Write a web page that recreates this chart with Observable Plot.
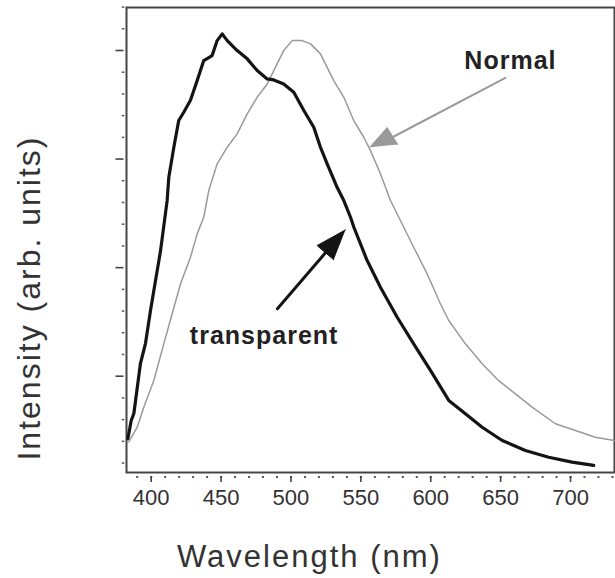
<!DOCTYPE html>
<html><head><meta charset="utf-8">
<script src="https://cdn.jsdelivr.net/npm/d3@7"></script>
<script src="https://cdn.jsdelivr.net/npm/@observablehq/plot@0.6"></script>
<style>body{margin:0;background:#fff}</style>
</head><body><div id="chart"></div>
<script>
// Transparent sample (black, thick)
const transparentWl = [383.3,385.7,387.6,392.3,395.9,399.5,401.9,406.7,411.4,412.6,416.2,419.7,423.3,428.1,432.9,437.6,443.6,447.2,450.8,454.4,461.5,468.7,475.8,483.0,487.7,494.8,502.0,509.2,516.3,521.1,525.9,533.0,537.8,542.6,545.0,554.5,564.0,576.0,587.8,599.8,612.9,624.8,636.8,651.1,667.7,684.4,701.1,716.6];
const transparentI  = [0.424,0.592,0.657,1.117,1.301,1.605,1.789,2.157,2.617,2.832,3.109,3.355,3.431,3.541,3.723,3.907,3.953,4.091,4.153,4.091,3.999,3.923,3.815,3.738,3.729,3.692,3.615,3.447,3.293,3.109,2.956,2.740,2.618,2.464,2.372,2.065,1.820,1.543,1.298,1.053,0.777,0.654,0.530,0.408,0.316,0.254,0.208,0.178];
// Normal sample (gray, thin)
const normalWl = [384.0,390.0,394.7,401.9,409.0,415.0,421.0,428.1,432.9,437.6,441.2,447.2,454.4,461.5,468.7,475.8,483.0,490.1,494.8,500.9,508.0,514.0,521.1,530.6,537.8,544.9,552.1,556.9,564.0,571.2,578.3,587.8,597.4,606.9,612.9,624.8,636.8,648.6,660.6,672.5,689.2,703.5,717.8,731.4];
const normalI  = [0.395,0.530,0.715,0.960,1.298,1.575,1.851,2.096,2.311,2.464,2.710,2.956,3.109,3.232,3.416,3.569,3.692,3.877,3.999,4.091,4.091,4.061,3.969,3.723,3.569,3.355,3.201,3.078,2.864,2.618,2.434,2.188,1.943,1.667,1.513,1.298,1.114,0.959,0.838,0.715,0.562,0.500,0.438,0.408];

const xTicks = [400,450,500,550,600,650,700];
const xMinorTicks = [390,400,410,420,430,440,450,460,470,480,490,500,510,520,530,540,550,560,570,580,590,600,610,620,630,640,650,660,670,680,690,700,710,720,730];
const yMajorTicks = [1,2,3,4];
const yMinorTicks = [0.2,0.4,0.6,0.8,1.2,1.4,1.6,1.8,2.2,2.4,2.6,2.8,3.2,3.4,3.6,3.8,4.2,4.4];

// Annotations (data units)
const normalShaftWl = [653.4,572.6], normalShaftI = [3.748,3.201];
const normalHeadWl = [556.4,568.8,576.4], normalHeadI = [3.109,3.290,3.134];
const transShaftWl = [490.3,524.7], transShaftI = [1.621,2.137];
const transHeadWl = [539.0,518.7,530.6], transHeadI = [2.348,2.203,2.072];
const labels = [
  {text:"Normal", wl:657.0, v:3.831},
  {text:"transparent", wl:480.8, v:1.298}
];
const xTitle = "Wavelength (nm)";
const yTitle = "Intensity (arb. units)";

const zip = (a,b) => a.map((w,i)=>({wl:w, v:b[i]}));
const font = "Liberation Sans, Arial, Helvetica, sans-serif";

const chart = Plot.plot({
  width: 615, height: 578,
  marginLeft: 126, marginRight: 1, marginTop: 7, marginBottom: 106,
  style: {fontFamily: font, background: "#fff"},
  x: {domain: [382.33, 731.47], label: null},
  y: {domain: [0.113, 4.396], label: null},
  marks: [
    Plot.axisX({ticks: xMinorTicks, tickSize: 2, dy: 4, text: null, label: null, stroke: "#555", strokeWidth: 2}),
    Plot.axisX({ticks: xTicks, tickSize: 6, dy: 4, text: null, label: null, stroke: "#444", strokeWidth: 1.6}),
    Plot.axisX({ticks: xTicks, tickSize: 0, tickPadding: 17, fontSize: 22, fill: "#333", label: null, tickFormat: d => String(d)}),
    Plot.axisY({ticks: yMinorTicks, tickSize: 2.5, dx: -1.7, text: null, label: null, stroke: "#555", strokeWidth: 1.5}),
    Plot.axisY({ticks: yMajorTicks, tickSize: 8, dx: -2.5, text: null, label: null, stroke: "#444", strokeWidth: 1.6}),
    Plot.frame({stroke: "#444", strokeWidth: 2}),
    Plot.line(zip(normalWl, normalI), {x: "wl", y: "v", stroke: "#9a9a9a", strokeWidth: 1.5}),
    Plot.line(zip(transparentWl, transparentI), {x: "wl", y: "v", stroke: "#141414", strokeWidth: 3.2}),
    Plot.line(zip(normalShaftWl, normalShaftI), {x: "wl", y: "v", stroke: "#9a9a9a", strokeWidth: 2}),
    Plot.line(zip(normalHeadWl, normalHeadI), {x: "wl", y: "v", fill: "#9a9a9a", stroke: "#9a9a9a", strokeWidth: 1}),
    Plot.line(zip(transShaftWl, transShaftI), {x: "wl", y: "v", stroke: "#141414", strokeWidth: 3}),
    Plot.line(zip(transHeadWl, transHeadI), {x: "wl", y: "v", fill: "#141414", stroke: "#141414", strokeWidth: 1}),
    Plot.text(labels, {x: "wl", y: "v", text: "text", fontSize: 25, fontWeight: "bold", fill: "#222", lineAnchor: "bottom", textAnchor: "middle"}),
    Plot.text([{t: xTitle, wl: 513.2}], {x: "wl", frameAnchor: "bottom", text: "t", dy: 94.7, lineAnchor: "bottom", textAnchor: "middle", fontSize: 31, fill: "#333"}),
    Plot.text([{t: yTitle, v: 1.72}], {y: "v", frameAnchor: "left", text: "t", dx: -87, rotate: -90, lineAnchor: "bottom", textAnchor: "middle", fontSize: 32, fill: "#333"})
  ]
});
// letter spacing to match the wider original typeface
const spacing = {"Normal": 1, "transparent": 1, [xTitle]: 2, [yTitle]: 2};
chart.querySelectorAll("text").forEach(t => {
  const s = spacing[t.textContent];
  if (s) t.setAttribute("letter-spacing", s);
});
document.getElementById("chart").appendChild(chart);
</script>
</body></html>
